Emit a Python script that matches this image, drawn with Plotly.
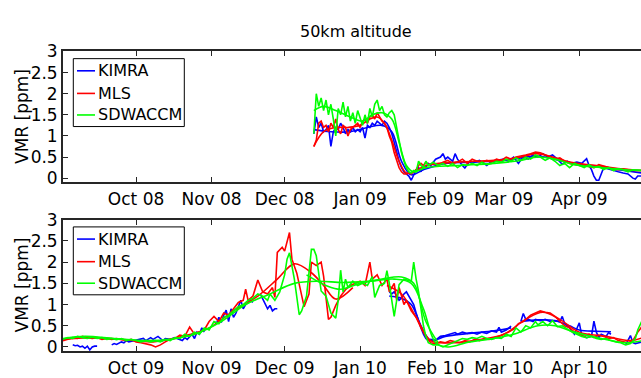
import plotly.graph_objects as go

# ---------------- data ----------------
# Panel 1: winter 2008/09
KIMRA_0809 = [("2008-12-13",1.05),("2008-12-14",1.45),("2008-12-15",1.2),("2008-12-16",1.3),("2008-12-17",1.1),
 ("2008-12-18",1.15),("2008-12-19",1.25),("2008-12-20",0.75),("2008-12-21",1.1),("2008-12-22",1.2),("2008-12-23",1.15),
 ("2008-12-24",1.3),("2008-12-25",1.2),("2008-12-26",1.05),("2008-12-27",1.15),("2008-12-28",1.1),("2008-12-29",1.2),
 ("2008-12-30",1.1),("2008-12-31",1.15),("2009-01-01",1.1),("2009-01-02",1.2),("2009-01-03",0.95),("2009-01-04",1.25),
 ("2009-01-05",1.2),("2009-01-06",1.3),("2009-01-07",1.25),("2009-01-08",1.35),("2009-01-09",1.3),("2009-01-10",1.25),
 ("2009-01-11",1.35),("2009-01-12",1.3),("2009-01-13",1.2),("2009-01-14",1.05),("2009-01-15",0.85),("2009-01-16",0.6),
 ("2009-01-17",0.4),("2009-01-18",0.25),("2009-01-19",0.15),("2009-01-20",0.1),("2009-01-21",0.05),("2009-01-22",-0.05),
 ("2009-01-23",0.1),("2009-01-24",0.2),("2009-01-25",0.25),("2009-01-26",0.15),("2009-01-27",0.3),("2009-01-28",0.25),
 ("2009-01-29",0.35),("2009-01-30",0.3),("2009-02-01",0.45),("2009-02-03",0.5),("2009-02-04",0.58),("2009-02-05",0.45),
 ("2009-02-06",0.5),("2009-02-08",0.4),("2009-02-09",0.58),("2009-02-10",0.45),("2009-02-12",0.3),("2009-02-13",0.24),
 ("2009-02-15",0.4),("2009-02-17",0.38),("2009-02-19",0.42),("2009-02-21",0.33),("2009-02-22",0.3),("2009-02-24",0.4),
 ("2009-02-26",0.42),("2009-03-01",0.45),("2009-03-03",0.4),("2009-03-05",0.5),("2009-03-07",0.35),("2009-03-09",0.51),
 ("2009-03-11",0.45),("2009-03-13",0.55),("2009-03-15",0.5),("2009-03-17",0.58),("2009-03-19",0.5),("2009-03-21",0.55),
 ("2009-03-23",0.45),("2009-03-25",0.33),("2009-03-27",0.4),("2009-03-29",0.35),("2009-03-31",0.38),("2009-04-02",0.35),
 ("2009-04-04",0.46),("2009-04-05",0.3),("2009-04-06",0.2),("2009-04-07",0.05),("2009-04-08",-0.05),("2009-04-09",-0.05),
 ("2009-04-10",0.1),("2009-04-11",0.25),("2009-04-13",0.22),("2009-04-15",0.18),("2009-04-17",0.15),("2009-04-19",0.12),
 ("2009-04-21",0.1),("2009-04-23",0.0),("2009-04-24",-0.02),("2009-04-25",0.05),("2009-04-27",0.05)]
KIMRA_0809_SMOOTH = [("2008-12-13",1.15),("2008-12-20",1.1),("2008-12-28",1.1),("2009-01-04",1.2),("2009-01-10",1.25),
 ("2009-01-14",1.1),("2009-01-18",0.4),("2009-01-22",0.08),("2009-01-27",0.2),("2009-02-05",0.35),("2009-02-15",0.38),
 ("2009-03-01",0.42),("2009-03-15",0.52),("2009-03-25",0.4),("2009-04-05",0.3),("2009-04-15",0.22),("2009-04-27",0.12)]

MLS_0809 = [("2008-12-13",0.75),("2008-12-14",0.9),("2008-12-15",1.3),("2008-12-16",1.35),("2008-12-17",1.2),
 ("2008-12-18",1.25),("2008-12-19",1.1),("2008-12-20",1.3),("2008-12-21",1.2),("2008-12-22",1.4),("2008-12-23",1.15),
 ("2008-12-24",1.05),("2008-12-25",1.25),("2008-12-26",1.2),("2008-12-27",1.0),("2008-12-28",1.15),("2008-12-29",1.2),
 ("2008-12-30",1.25),("2008-12-31",1.3),("2009-01-01",1.2),("2009-01-02",1.35),("2009-01-03",1.4),("2009-01-04",1.3),
 ("2009-01-05",1.45),("2009-01-06",1.5),("2009-01-07",1.4),("2009-01-08",1.55),("2009-01-09",1.45),("2009-01-10",1.35),
 ("2009-01-11",1.3),("2009-01-12",1.2),("2009-01-13",1.0),("2009-01-14",0.85),("2009-01-15",0.6),("2009-01-16",0.4),
 ("2009-01-17",0.25),("2009-01-18",0.15),("2009-01-19",0.1),("2009-01-20",0.1),("2009-01-21",0.12),("2009-01-22",0.1),
 ("2009-01-23",0.15),("2009-01-24",0.2),("2009-01-25",0.3),("2009-01-26",0.35),("2009-01-27",0.3),("2009-01-28",0.38),
 ("2009-01-29",0.32),("2009-01-31",0.35),("2009-02-02",0.3),("2009-02-04",0.38),("2009-02-06",0.42),("2009-02-08",0.35),
 ("2009-02-10",0.38),("2009-02-12",0.45),("2009-02-14",0.35),("2009-02-16",0.45),("2009-02-18",0.4),("2009-02-20",0.38),
 ("2009-02-22",0.42),("2009-02-24",0.38),("2009-02-26",0.45),("2009-02-28",0.42),("2009-03-02",0.5),("2009-03-04",0.45),
 ("2009-03-06",0.5),("2009-03-08",0.52),("2009-03-10",0.55),("2009-03-12",0.58),("2009-03-14",0.62),("2009-03-16",0.6),
 ("2009-03-18",0.55),("2009-03-20",0.5),("2009-03-22",0.45),("2009-03-24",0.48),("2009-03-26",0.4),("2009-03-28",0.35),
 ("2009-03-30",0.32),("2009-04-01",0.3),("2009-04-03",0.3),("2009-04-05",0.28),("2009-04-07",0.25),("2009-04-09",0.32),
 ("2009-04-11",0.28),("2009-04-13",0.25),("2009-04-15",0.22),("2009-04-17",0.2),("2009-04-19",0.22),("2009-04-21",0.2),
 ("2009-04-23",0.18),("2009-04-27",0.18)]
MLS_0809_SMOOTH = [("2008-12-13",0.75),("2008-12-17",1.1),("2008-12-22",1.2),("2008-12-27",1.2),("2009-01-01",1.25),
 ("2009-01-05",1.4),("2009-01-08",1.45),("2009-01-11",1.3),("2009-01-14",0.9),("2009-01-17",0.4),("2009-01-20",0.12),
 ("2009-01-23",0.15),("2009-01-28",0.3),("2009-02-10",0.38),("2009-02-25",0.42),("2009-03-08",0.5),("2009-03-14",0.58),
 ("2009-03-20",0.52),("2009-03-28",0.38),("2009-04-08",0.3),("2009-04-18",0.22),("2009-04-27",0.18)]

SDWACCM_0809 = [("2008-12-13",1.05),("2008-12-14",2.0),("2008-12-15",1.7),("2008-12-16",1.9),("2008-12-17",1.6),
 ("2008-12-18",1.85),("2008-12-19",1.5),("2008-12-20",1.75),("2008-12-21",1.4),("2008-12-22",1.0),("2008-12-23",1.65),
 ("2008-12-24",1.5),("2008-12-25",1.8),("2008-12-26",1.45),("2008-12-27",1.7),("2008-12-28",1.35),("2008-12-29",1.55),
 ("2008-12-30",1.3),("2008-12-31",1.6),("2009-01-01",1.4),("2009-01-02",1.25),("2009-01-03",1.5),("2009-01-04",1.3),
 ("2009-01-05",1.65),("2009-01-06",1.45),("2009-01-07",1.75),("2009-01-08",1.85),("2009-01-09",1.6),("2009-01-10",1.7),
 ("2009-01-11",1.5),("2009-01-12",1.45),("2009-01-13",1.55),("2009-01-14",1.6),("2009-01-15",1.5),("2009-01-16",1.2),
 ("2009-01-17",0.9),("2009-01-18",0.6),("2009-01-19",0.4),("2009-01-20",0.25),("2009-01-21",0.15),("2009-01-22",0.12),
 ("2009-01-23",0.18),("2009-01-24",0.15),("2009-01-25",0.4),("2009-01-26",0.3),("2009-01-27",0.25),("2009-01-28",0.4),
 ("2009-01-29",0.3),("2009-01-31",0.38),("2009-02-02",0.3),("2009-02-04",0.35),("2009-02-06",0.28),("2009-02-08",0.35),
 ("2009-02-10",0.25),("2009-02-12",0.32),("2009-02-14",0.3),("2009-02-16",0.35),("2009-02-18",0.3),("2009-02-20",0.38),
 ("2009-02-22",0.32),("2009-02-24",0.35),("2009-02-26",0.4),("2009-02-28",0.38),("2009-03-02",0.45),("2009-03-04",0.4),
 ("2009-03-06",0.48),("2009-03-08",0.42),("2009-03-10",0.5),("2009-03-12",0.45),("2009-03-14",0.55),("2009-03-16",0.5),
 ("2009-03-18",0.42),("2009-03-20",0.48),("2009-03-22",0.4),("2009-03-24",0.3),("2009-03-26",0.35),("2009-03-28",0.25),
 ("2009-03-30",0.35),("2009-04-01",0.3),("2009-04-03",0.25),("2009-04-05",0.32),("2009-04-07",0.25),("2009-04-09",0.28),
 ("2009-04-11",0.2),("2009-04-13",0.25),("2009-04-15",0.18),("2009-04-17",0.22),("2009-04-19",0.2),("2009-04-21",0.15),
 ("2009-04-23",0.2),("2009-04-27",0.18)]
SDWACCM_0809_SMOOTH = [("2008-12-13",1.6),("2008-12-17",1.7),("2008-12-22",1.6),("2008-12-28",1.45),("2009-01-02",1.35),
 ("2009-01-06",1.5),("2009-01-10",1.55),("2009-01-14",1.4),("2009-01-17",0.85),("2009-01-20",0.3),("2009-01-23",0.15),
 ("2009-01-28",0.25),("2009-02-10",0.3),("2009-02-25",0.35),("2009-03-08",0.42),("2009-03-15",0.5),("2009-03-22",0.45),
 ("2009-03-30",0.32),("2009-04-10",0.25),("2009-04-20",0.2),("2009-04-27",0.18)]

# Panel 2: winter 2009/10
KIMRA_0910 = [("2009-09-05",0.05),("2009-09-06",0.03),("2009-09-07",0.04),("2009-09-08",0.0),("2009-09-09",0.02),
 ("2009-09-10",-0.03),("2009-09-11",0.02),("2009-09-12",-0.07),("2009-09-13",0.0),("2009-09-14",0.02),("2009-09-15",0.02),
 ("2009-09-18",None),
 ("2009-09-21",0.05),("2009-09-22",0.08),("2009-09-23",0.06),("2009-09-24",0.1),("2009-09-25",0.12),("2009-09-26",0.1),
 ("2009-09-27",0.15),("2009-09-28",0.12),("2009-09-30",0.15),("2009-10-02",0.18),("2009-10-04",0.2),("2009-10-05",0.15),
 ("2009-10-07",0.22),("2009-10-08",0.18),("2009-10-10",0.25),("2009-10-11",0.2),("2009-10-12",0.15),("2009-10-13",0.2),
 ("2009-10-15",0.18),("2009-10-17",0.22),("2009-10-19",0.18),("2009-10-20",0.15),("2009-10-21",0.22),("2009-10-22",0.18),
 ("2009-10-24",0.3),("2009-10-25",0.2),("2009-10-26",0.35),("2009-10-27",0.3),("2009-10-28",0.45),("2009-10-29",0.35),
 ("2009-10-31",None),
 ("2009-11-02",0.6),("2009-11-03",0.55),("2009-11-04",0.7),("2009-11-05",0.58),("2009-11-06",0.75),("2009-11-07",0.87),
 ("2009-11-08",0.6),("2009-11-09",0.9),("2009-11-10",0.7),("2009-11-11",0.8),("2009-11-12",0.95),("2009-11-13",1.1),
 ("2009-11-14",0.9),("2009-11-15",1.0),("2009-11-16",1.05),("2009-11-17",1.1),("2009-11-18",1.05),
 ("2009-11-19",None),
 ("2009-11-21",1.25),("2009-11-22",1.13),("2009-11-23",0.98),("2009-11-24",0.9),("2009-11-25",0.98),("2009-11-26",0.85),
 ("2009-11-27",0.9),("2009-11-28",0.9),
 ("2009-12-20",None),
 ("2010-01-13",1.3),("2010-01-14",1.25),("2010-01-15",1.3),("2010-01-16",1.2),("2010-01-17",1.1),("2010-01-18",1.15),
 ("2010-01-19",1.25),("2010-01-20",1.3),("2010-01-21",1.2),("2010-01-22",1.1),("2010-01-23",1.0),("2010-01-24",0.8),
 ("2010-01-25",0.6),("2010-01-26",0.45),("2010-01-27",0.3),("2010-01-28",0.2),("2010-01-29",0.15),("2010-01-30",0.18),
 ("2010-02-01",0.16),("2010-02-02",0.2),("2010-02-03",0.25),("2010-02-05",0.27),("2010-02-07",0.3),("2010-02-09",0.34),
 ("2010-02-10",0.3),("2010-02-12",0.35),("2010-02-14",0.32),("2010-02-16",0.34),("2010-02-18",0.3),("2010-02-20",0.35),
 ("2010-02-22",0.32),("2010-02-24",0.38),("2010-02-26",0.35),("2010-02-27",0.46),("2010-02-28",0.35),("2010-03-02",0.4),
 ("2010-03-04",0.49),("2010-03-06",None),
 ("2010-03-08",0.6),("2010-03-09",0.79),("2010-03-10",0.65),("2010-03-11",0.65),("2010-03-13",0.6),("2010-03-14",0.65),
 ("2010-03-16",0.62),("2010-03-18",0.65),("2010-03-20",0.6),("2010-03-22",0.62),("2010-03-24",0.6),("2010-03-25",0.72),
 ("2010-03-26",0.55),("2010-03-28",0.45),("2010-03-30",0.3),("2010-04-01",0.57),("2010-04-02",0.27),("2010-04-04",0.22),
 ("2010-04-06",0.25),("2010-04-07",0.61),("2010-04-08",0.35),("2010-04-09",0.22),("2010-04-10",0.3),("2010-04-11",0.28),
 ("2010-04-12",0.25),("2010-04-13",0.34),("2010-04-14",0.3),("2010-04-17",None),
 ("2010-04-20",0.05),("2010-04-21",0.16),("2010-04-22",0.27),("2010-04-23",0.1),("2010-04-24",0.08),("2010-04-27",0.12)]
KIMRA_0910_SMOOTH = [("2010-01-13",1.2),("2010-01-18",1.15),("2010-01-22",1.0),("2010-01-26",0.5),("2010-01-30",0.15),
 ("2010-02-05",0.25),("2010-02-15",0.32),("2010-02-25",0.38),("2010-03-04",0.45),("2010-03-06",None),
 ("2010-03-08",0.6),("2010-03-15",0.64),("2010-03-22",0.62),("2010-03-28",0.5),("2010-04-01",0.4),("2010-04-08",0.37),
 ("2010-04-14",0.36)]

MLS_0910 = [("2009-09-01",0.15),("2009-09-03",0.18),("2009-09-05",0.22),("2009-09-07",0.2),("2009-09-09",0.25),
 ("2009-09-11",0.22),("2009-09-13",0.2),("2009-09-15",0.22),("2009-09-17",0.18),("2009-09-19",0.2),("2009-09-21",0.18),
 ("2009-09-23",0.2),("2009-09-25",0.17),("2009-09-27",0.15),("2009-09-29",0.18),("2009-10-01",0.12),("2009-10-03",0.1),
 ("2009-10-05",0.08),("2009-10-07",0.05),("2009-10-09",0.0),("2009-10-11",0.05),("2009-10-13",0.12),("2009-10-15",0.18),
 ("2009-10-17",0.2),("2009-10-19",0.28),("2009-10-21",0.25),("2009-10-23",0.47),("2009-10-25",0.3),("2009-10-27",0.35),
 ("2009-10-29",0.4),("2009-10-31",0.6),("2009-11-02",0.72),("2009-11-04",0.6),("2009-11-06",0.8),("2009-11-08",0.75),
 ("2009-11-10",0.9),("2009-11-12",1.05),("2009-11-14",1.1),("2009-11-15",1.36),("2009-11-16",1.1),("2009-11-18",1.2),
 ("2009-11-20",1.58),("2009-11-22",1.3),("2009-11-24",1.25),("2009-11-26",1.4),("2009-11-27",1.17),("2009-11-28",2.23),
 ("2009-11-30",2.35),("2009-12-01",2.26),("2009-12-03",2.7),("2009-12-04",2.07),("2009-12-06",1.74),("2009-12-08",1.17),
 ("2009-12-09",0.95),("2009-12-11",1.25),("2009-12-12",2.0),("2009-12-14",1.92),("2009-12-16",2.0),("2009-12-17",1.67),
 ("2009-12-19",0.65),("2009-12-20",0.7),("2009-12-22",0.98),("2009-12-24",1.2),("2009-12-26",1.35),("2009-12-28",1.45),
 ("2009-12-30",1.5),("2010-01-01",1.55),("2010-01-03",1.45),("2010-01-05",2.0),("2010-01-06",1.6),("2010-01-08",1.7),
 ("2010-01-10",1.45),("2010-01-12",1.6),("2010-01-13",1.3),("2010-01-15",1.5),("2010-01-16",1.1),("2010-01-17",1.4),
 ("2010-01-19",1.0),("2010-01-20",1.1),("2010-01-22",0.85),("2010-01-24",0.7),("2010-01-26",0.45),("2010-01-28",0.25),
 ("2010-01-30",0.1),("2010-02-01",0.08),("2010-02-03",0.12),("2010-02-05",0.1),("2010-02-07",0.15),("2010-02-09",0.12),
 ("2010-02-11",0.1),("2010-02-13",0.15),("2010-02-15",0.12),("2010-02-17",0.18),("2010-02-19",0.15),("2010-02-21",0.2),
 ("2010-02-23",0.18),("2010-02-25",0.22),("2010-02-27",0.25),("2010-03-01",0.3),("2010-03-03",0.35),("2010-03-05",0.42),
 ("2010-03-07",0.55),("2010-03-09",0.6),("2010-03-10",0.65),("2010-03-12",0.75),("2010-03-14",0.8),("2010-03-16",0.85),
 ("2010-03-18",0.82),("2010-03-20",0.8),("2010-03-22",0.72),("2010-03-24",0.6),("2010-03-26",0.5),("2010-03-28",0.45),
 ("2010-03-30",0.35),("2010-04-01",0.3),("2010-04-03",0.25),("2010-04-05",0.3),("2010-04-07",0.22),("2010-04-09",0.28),
 ("2010-04-11",0.25),("2010-04-13",0.2),("2010-04-15",0.22),("2010-04-17",0.15),("2010-04-19",0.12),("2010-04-21",0.1),
 ("2010-04-23",0.15),("2010-04-25",0.35),("2010-04-27",0.5)]
MLS_0910_SMOOTH = [("2009-09-01",0.18),("2009-09-12",0.22),("2009-09-25",0.18),("2009-10-08",0.12),("2009-10-20",0.25),
 ("2009-10-31",0.45),("2009-11-10",0.85),("2009-11-20",1.2),("2009-11-28",1.6),("2009-12-05",1.96),("2009-12-12",1.75),
 ("2009-12-17",1.45),("2009-12-22",1.13),("2009-12-29",1.4),("2010-01-05",None),
 ("2010-01-12",1.45),("2010-01-18",1.25),("2010-01-24",0.7),("2010-01-30",0.15),("2010-02-08",0.1),("2010-02-20",0.18),
 ("2010-03-01",0.3),("2010-03-10",0.65),("2010-03-17",0.82),("2010-03-24",0.65),("2010-04-01",0.35),("2010-04-12",0.25),
 ("2010-04-22",0.15),("2010-04-27",0.22)]

SDWACCM_0910 = [("2009-09-01",0.18),("2009-09-03",0.22),("2009-09-05",0.2),("2009-09-07",0.25),("2009-09-09",0.22),
 ("2009-09-11",0.2),("2009-09-13",0.23),("2009-09-15",0.2),("2009-09-17",0.22),("2009-09-19",0.18),("2009-09-21",0.2),
 ("2009-09-23",0.17),("2009-09-25",0.2),("2009-09-27",0.15),("2009-09-29",0.18),("2009-10-01",0.15),("2009-10-03",0.12),
 ("2009-10-05",0.15),("2009-10-07",0.12),("2009-10-09",0.15),("2009-10-11",0.12),("2009-10-13",0.18),("2009-10-15",0.15),
 ("2009-10-17",0.22),("2009-10-19",0.2),("2009-10-21",0.3),("2009-10-23",0.25),("2009-10-25",0.35),("2009-10-27",0.3),
 ("2009-10-29",0.45),("2009-10-31",0.4),("2009-11-02",0.6),("2009-11-04",0.55),("2009-11-06",0.7),("2009-11-08",0.75),
 ("2009-11-10",0.85),("2009-11-12",0.95),("2009-11-14",1.0),("2009-11-16",1.1),("2009-11-18",1.15),("2009-11-20",1.25),
 ("2009-11-22",1.2),("2009-11-24",1.1),("2009-11-25",1.25),("2009-11-27",1.1),("2009-11-29",1.3),("2009-12-01",1.7),
 ("2009-12-02",2.07),("2009-12-03",2.22),("2009-12-05",1.6),("2009-12-06",1.2),("2009-12-07",0.76),("2009-12-08",0.85),
 ("2009-12-10",1.2),("2009-12-12",2.3),("2009-12-13",2.3),("2009-12-14",2.15),("2009-12-15",1.7),("2009-12-16",1.32),
 ("2009-12-18",1.2),("2009-12-20",0.8),("2009-12-22",0.68),("2009-12-23",1.1),("2009-12-24",1.81),("2009-12-25",1.3),
 ("2009-12-26",1.6),("2009-12-27",1.4),("2009-12-29",1.55),("2009-12-31",1.45),("2010-01-02",1.5),("2010-01-04",1.45),
 ("2010-01-06",1.66),("2010-01-07",1.17),("2010-01-09",1.45),("2010-01-11",1.5),("2010-01-12",1.8),("2010-01-13",1.5),
 ("2010-01-14",1.1),("2010-01-15",0.72),("2010-01-17",1.47),("2010-01-19",1.6),("2010-01-22",1.55),("2010-01-23",2.0),
 ("2010-01-24",1.6),("2010-01-25",1.3),("2010-01-26",0.9),("2010-01-27",0.5),("2010-01-28",0.25),("2010-01-29",0.1),
 ("2010-01-31",0.05),("2010-02-02",0.05),("2010-02-04",0.0),("2010-02-06",0.05),("2010-02-08",0.1),("2010-02-10",0.15),
 ("2010-02-12",0.2),("2010-02-14",0.18),("2010-02-16",0.22),("2010-02-18",0.2),("2010-02-20",0.25),("2010-02-22",0.2),
 ("2010-02-24",0.18),("2010-02-26",0.22),("2010-02-28",0.2),("2010-03-02",0.3),("2010-03-04",0.25),("2010-03-06",0.45),
 ("2010-03-08",0.35),("2010-03-10",0.5),("2010-03-12",0.45),("2010-03-14",0.6),("2010-03-15",0.52),("2010-03-17",0.6),
 ("2010-03-19",0.5),("2010-03-21",0.62),("2010-03-23",0.48),("2010-03-25",0.5),("2010-03-27",0.42),("2010-03-29",0.35),
 ("2010-03-31",0.3),("2010-04-02",0.25),("2010-04-04",0.22),("2010-04-06",0.25),("2010-04-08",0.2),("2010-04-10",0.18),
 ("2010-04-12",0.2),("2010-04-14",0.15),("2010-04-16",0.12),("2010-04-18",0.1),("2010-04-20",0.05),("2010-04-22",0.08),
 ("2010-04-24",0.2),("2010-04-25",0.4),("2010-04-27",0.65)]
SDWACCM_0910_SMOOTH = [("2009-09-01",0.2),("2009-09-10",0.25),("2009-09-22",0.2),("2009-10-05",0.15),("2009-10-15",0.18),
 ("2009-10-25",0.3),("2009-11-05",0.6),("2009-11-15",1.0),("2009-11-25",1.25),("2009-12-05",1.5),("2009-12-15",1.55),
 ("2009-12-25",1.52),("2010-01-05",1.55),("2010-01-15",1.6),("2010-01-22",1.5),("2010-01-27",0.9),("2010-02-01",0.1),
 ("2010-02-06",0.0),("2010-02-15",0.12),("2010-02-25",0.2),("2010-03-05",0.3),("2010-03-15",0.5),("2010-03-22",0.5),
 ("2010-03-30",0.35),("2010-04-10",0.2),("2010-04-20",0.1),("2010-04-27",0.15)]
SDWACCM_0910_SMOOTH2 = [("2009-12-10",1.7),("2009-12-18",1.45),("2009-12-24",1.36),("2010-01-01",1.5),("2010-01-10",1.6),
 ("2010-01-18",1.65),("2010-01-23",1.5),("2010-01-28",0.6),("2010-02-02",0.1)]

SERIES_NAMES = ["KIMRA", "MLS", "SDWACCM"]
PANEL_TITLE = "50km altitude"
Y_LABEL = "VMR [ppm]"
Y_TICKS = [0, 0.5, 1, 1.5, 2, 2.5, 3]
Y_TICK_TEXT = ["0", "0.5", "1", "1.5", "2", "2.5", "3"]
X_TICKS_0809 = ["2008-10-01", "2008-11-01", "2008-12-01", "2009-01-01", "2009-02-01", "2009-03-01", "2009-04-01"]
X_TICKS_0910 = ["2009-10-01", "2009-11-01", "2009-12-01", "2010-01-01", "2010-02-01", "2010-03-01", "2010-04-01"]
X_RANGE_0809 = ["2008-09-01", "2009-04-26 08:00"]
X_RANGE_0910 = ["2009-09-01", "2010-04-26 08:00"]

COLORS = {"KIMRA": "#0000ff", "MLS": "#ff0000", "SDWACCM": "#00ff00"}

SMOOTHED = [KIMRA_0809_SMOOTH, MLS_0809_SMOOTH, SDWACCM_0809_SMOOTH,
            KIMRA_0910_SMOOTH, MLS_0910_SMOOTH, SDWACCM_0910_SMOOTH, SDWACCM_0910_SMOOTH2]

# ---------------- figure ----------------
W, H = 641, 378
ML = 63
PW = W - ML
FONT = "DejaVu Sans"
AX = "#262626"

def py(p):  # pixel row -> paper y
    return (H - p) / H

def px(p):  # pixel column -> paper x
    return (p - ML) / PW

fig = go.Figure()

panels = [
    ("x", "y", [(KIMRA_0809, "KIMRA"), (KIMRA_0809_SMOOTH, "KIMRA"),
                (MLS_0809, "MLS"), (MLS_0809_SMOOTH, "MLS"),
                (SDWACCM_0809, "SDWACCM"), (SDWACCM_0809_SMOOTH, "SDWACCM")]),
    ("x2", "y2", [(KIMRA_0910, "KIMRA"), (KIMRA_0910_SMOOTH, "KIMRA"),
                  (MLS_0910, "MLS"), (MLS_0910_SMOOTH, "MLS"),
                  (SDWACCM_0910, "SDWACCM"), (SDWACCM_0910_SMOOTH, "SDWACCM"),
                  (SDWACCM_0910_SMOOTH2, "SDWACCM")]),
]
for xa, ya, series in panels:
    for data, name in series:
        smooth = any(data is s for s in SMOOTHED)
        fig.add_trace(go.Scatter(
            x=[d for d, _ in data], y=[v for _, v in data], mode="lines", name=name,
            xaxis=xa, yaxis=ya, showlegend=False, connectgaps=False,
            line=dict(color=COLORS[name], width=1.6,
                      shape="spline" if smooth else "linear", smoothing=1.0 if smooth else None),
            hoverinfo="skip"))

top1, bot1 = 43.3, 180.0
top2, bot2 = 219.0, 356.3

axis_common = dict(showline=True, linecolor=AX, linewidth=1.8, ticks="inside", ticklen=5,
                   tickcolor=AX, tickwidth=1, showgrid=False, zeroline=False,
                   tickfont=dict(family=FONT, size=17, color="#000"))
fig.update_layout(
    width=W, height=H, margin=dict(l=ML, r=0, t=0, b=0),
    paper_bgcolor="white", plot_bgcolor="white", showlegend=False,
    xaxis=dict(domain=[0, 1], anchor="y", range=X_RANGE_0809, tickvals=X_TICKS_0809,
               tickformat="%b %y", mirror="ticks", **axis_common),
    yaxis=dict(domain=[py(bot1), py(top1)], anchor="x", range=[-0.1, 3],
               tickvals=Y_TICKS, ticktext=Y_TICK_TEXT, **axis_common),
    xaxis2=dict(domain=[0, 1], anchor="y2", range=X_RANGE_0910, tickvals=X_TICKS_0910,
                tickformat="%b %y", mirror="ticks", **axis_common),
    yaxis2=dict(domain=[py(bot2), py(top2)], anchor="x2", range=[-0.1, 3],
                tickvals=Y_TICKS, ticktext=Y_TICK_TEXT, **axis_common),
)

annotations = [dict(text=PANEL_TITLE, x=px(356), y=py(22), xref="paper", yref="paper",
                    showarrow=False, font=dict(family=FONT, size=16, color="#000"),
                    xanchor="center", yanchor="middle")]
shapes = []
for top, bot in [(top1, bot1), (top2, bot2)]:
    annotations.append(dict(text=Y_LABEL, x=px(22), y=py((top + bot) / 2), xref="paper", yref="paper",
                            textangle=-90, showarrow=False, xanchor="center", yanchor="middle",
                            font=dict(family=FONT, size=17, color="#000")))
    # legend box
    shapes.append(dict(type="rect", xref="paper", yref="paper", x0=px(73.3), x1=px(184.3),
                       y0=py(top + 78.4), y1=py(top + 7.5), line=dict(color="#000", width=1),
                       fillcolor="white", layer="above"))
    for off, name in zip([20.2, 43.8, 66.3], SERIES_NAMES):
        shapes.append(dict(type="line", xref="paper", yref="paper", x0=px(77), x1=px(95),
                           y0=py(top + off), y1=py(top + off),
                           line=dict(color=COLORS[name], width=1.6), layer="above"))
        annotations.append(dict(text=name, x=px(95.5), y=py(top + off), xref="paper", yref="paper",
                                showarrow=False, xanchor="left", yanchor="middle",
                                font=dict(family=FONT, size=16, color="#000")))
fig.update_layout(annotations=annotations, shapes=shapes)

fig.write_html("out.html")
